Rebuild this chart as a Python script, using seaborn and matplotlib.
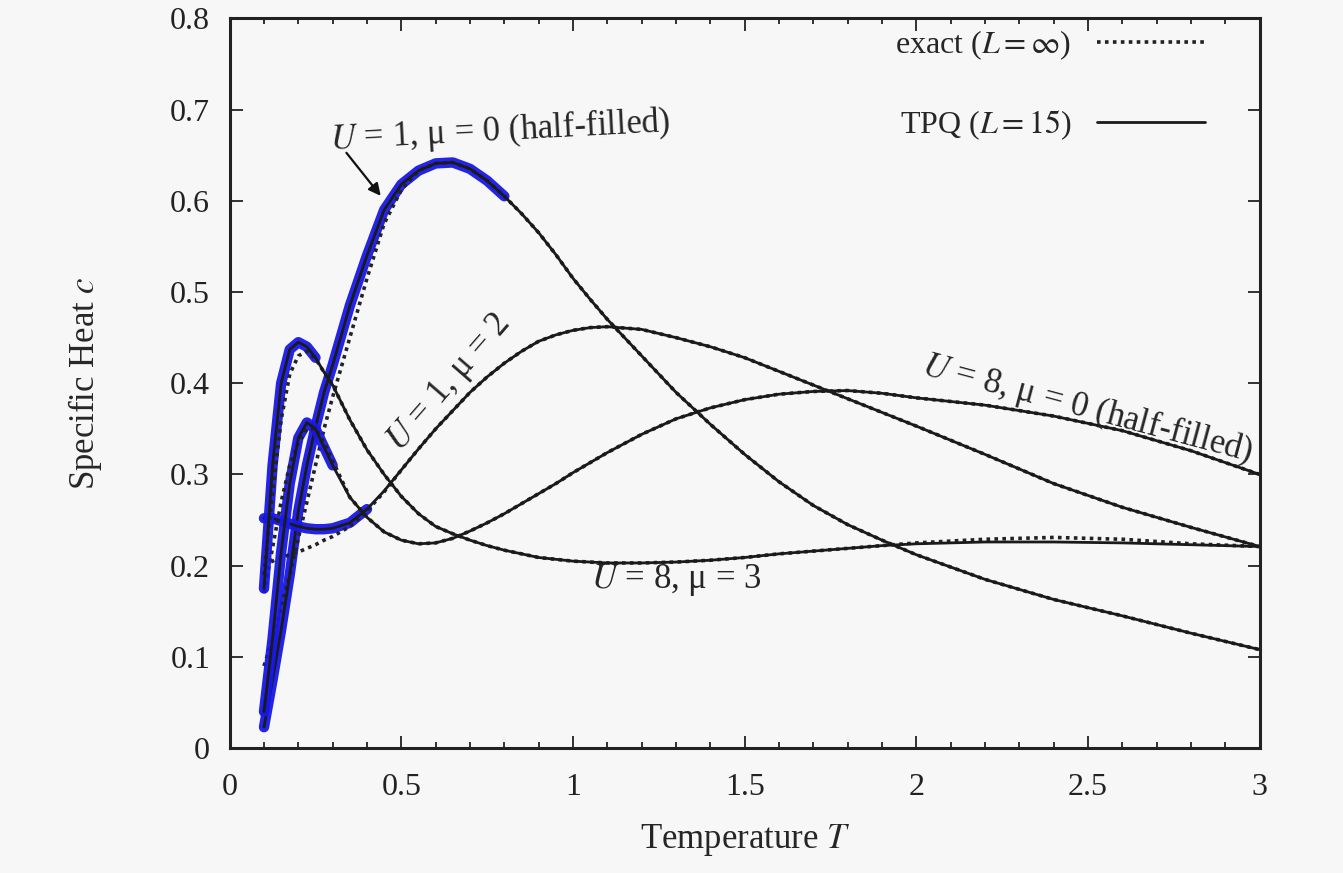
import numpy as np
import pandas as pd
import seaborn as sns
import matplotlib.pyplot as plt
from matplotlib.lines import Line2D

# temperature grid shared by all curves
temps = [0.10, 0.125, 0.15, 0.175, 0.20, 0.225, 0.25, 0.275, 0.30, 0.35,
         0.40, 0.45, 0.50, 0.55, 0.60, 0.65, 0.70, 0.75, 0.80, 0.85,
         0.90, 0.95, 1.00, 1.05, 1.10, 1.20, 1.30, 1.40, 1.50, 1.60,
         1.70, 1.80, 1.90, 2.00, 2.20, 2.40, 2.60, 2.80, 3.00]

# TPQ (L = 15) results
tpq_u1_mu0 = [0.023, 0.075, 0.13, 0.19, 0.26, 0.31, 0.352, 0.39, 0.42, 0.485,
              0.54, 0.59, 0.618, 0.633, 0.641, 0.642, 0.635, 0.622, 0.605, 0.586,
              0.565, 0.541, 0.515, 0.492, 0.47, 0.43, 0.39, 0.355, 0.322, 0.292,
              0.266, 0.245, 0.228, 0.212, 0.185, 0.163, 0.145, 0.126, 0.108]
tpq_u1_mu2 = [0.252, 0.252, 0.249, 0.246, 0.243, 0.241, 0.24, 0.24, 0.241, 0.247,
              0.262, 0.282, 0.305, 0.328, 0.35, 0.37, 0.39, 0.407, 0.422, 0.435,
              0.446, 0.453, 0.458, 0.461, 0.462, 0.459, 0.45, 0.44, 0.428, 0.413,
              0.398, 0.383, 0.368, 0.353, 0.322, 0.29, 0.264, 0.242, 0.221]
tpq_u8_mu0 = [0.04, 0.12, 0.215, 0.29, 0.34, 0.357, 0.35, 0.33, 0.31, 0.275,
              0.253, 0.237, 0.228, 0.224, 0.225, 0.23, 0.238, 0.247, 0.257, 0.268,
              0.279, 0.29, 0.302, 0.313, 0.324, 0.344, 0.361, 0.373, 0.382, 0.388,
              0.391, 0.392, 0.389, 0.384, 0.376, 0.364, 0.348, 0.326, 0.30]
tpq_u8_mu3 = [0.175, 0.31, 0.40, 0.437, 0.445, 0.44, 0.428, 0.412, 0.398, 0.36,
              0.327, 0.30, 0.276, 0.257, 0.243, 0.235, 0.228, 0.222, 0.217, 0.213,
              0.209, 0.207, 0.205, 0.204, 0.203, 0.203, 0.204, 0.206, 0.209, 0.213,
              0.216, 0.219, 0.222, 0.224, 0.226, 0.226, 0.225, 0.223, 0.221]

# exact (L = infinity) results
exact_u1_mu0 = [0.09, 0.12, 0.155, 0.19, 0.23, 0.27, 0.31, 0.35, 0.385, 0.45,
                0.515, 0.575, 0.612, 0.633, 0.641, 0.642, 0.635, 0.622, 0.605, 0.586,
                0.565, 0.541, 0.515, 0.492, 0.47, 0.43, 0.39, 0.355, 0.322, 0.292,
                0.266, 0.245, 0.228, 0.212, 0.185, 0.163, 0.145, 0.126, 0.108]
exact_u1_mu2 = [0.20, 0.205, 0.209, 0.212, 0.215, 0.219, 0.223, 0.228, 0.232, 0.243,
                0.26, 0.281, 0.305, 0.328, 0.35, 0.37, 0.39, 0.407, 0.422, 0.435,
                0.446, 0.453, 0.458, 0.461, 0.462, 0.459, 0.45, 0.44, 0.428, 0.413,
                0.398, 0.383, 0.368, 0.353, 0.322, 0.29, 0.264, 0.242, 0.221]
exact_u8_mu0 = [0.17, 0.22, 0.27, 0.31, 0.335, 0.35, 0.35, 0.335, 0.315, 0.275,
                0.253, 0.237, 0.228, 0.224, 0.225, 0.23, 0.238, 0.247, 0.257, 0.268,
                0.279, 0.29, 0.302, 0.313, 0.324, 0.344, 0.361, 0.373, 0.382, 0.388,
                0.391, 0.392, 0.389, 0.384, 0.376, 0.364, 0.348, 0.326, 0.30]
exact_u8_mu3 = [0.19, 0.28, 0.36, 0.41, 0.43, 0.435, 0.427, 0.412, 0.398, 0.36,
                0.327, 0.30, 0.276, 0.257, 0.243, 0.235, 0.228, 0.222, 0.217, 0.213,
                0.209, 0.207, 0.205, 0.204, 0.203, 0.203, 0.204, 0.206, 0.209, 0.213,
                0.216, 0.219, 0.222, 0.225, 0.229, 0.231, 0.229, 0.224, 0.221]

curve_names = ["U1_mu0", "U1_mu2", "U8_mu0", "U8_mu3"]
tpq_sets = [tpq_u1_mu0, tpq_u1_mu2, tpq_u8_mu0, tpq_u8_mu3]
exact_sets = [exact_u1_mu0, exact_u1_mu2, exact_u8_mu0, exact_u8_mu3]
# TPQ error bars are visible only below these temperatures
error_limits = [0.80, 0.42, 0.30, 0.25]

x_ticks = [0, 0.5, 1, 1.5, 2, 2.5, 3]
x_tick_labels = ["0", "0.5", "1", "1.5", "2", "2.5", "3"]
y_ticks = [0, 0.1, 0.2, 0.3, 0.4, 0.5, 0.6, 0.7, 0.8]
y_tick_labels = ["0", "0.1", "0.2", "0.3", "0.4", "0.5", "0.6", "0.7", "0.8"]

# Build a long table
frames = []
for name, tpq, exact in zip(curve_names, tpq_sets, exact_sets):
    frames.append(pd.DataFrame({"T": temps, "tpq": tpq, "exact": exact, "curve": name}))
df = pd.concat(frames, ignore_index=True)

sns.set_theme(style="ticks")
plt.rcParams["font.family"] = ["Liberation Serif", "DejaVu Serif"]
plt.rcParams["mathtext.fontset"] = "stix"

bg = "#f7f7f7"
fig, ax = plt.subplots(figsize=(13.43, 8.73), dpi=100)
fig.patch.set_facecolor(bg)
ax.set_facecolor(bg)
fig.subplots_adjust(left=0.171, right=0.938, bottom=0.143, top=0.979)

for name, lim in zip(curve_names, error_limits):
    sub = df[df["curve"] == name]
    low = sub[sub["T"] <= lim]
    # blue error band of the TPQ data
    sns.lineplot(data=low, x="T", y="tpq", ax=ax, color="#1818e8", lw=7.5,
                 alpha=0.95, solid_capstyle="round")
    sns.lineplot(data=sub, x="T", y="exact", ax=ax, color="#222222", lw=2.6,
                 linestyle=(0, (1, 1.2)))
    sns.lineplot(data=sub, x="T", y="tpq", ax=ax, color="#1a1a1a", lw=2.0)

ax.set_xlim(0, 3)
ax.set_ylim(0, 0.8)
ax.set_xticks(x_ticks)
ax.set_xticklabels(x_tick_labels)
ax.set_yticks(y_ticks)
ax.set_yticklabels(y_tick_labels)
ax.set_xticks(np.arange(0, 3.01, 0.1), minor=True)
ax.tick_params(which="both", direction="in", top=True, right=True,
               labelsize=23, width=1.3, colors="#222222")
ax.tick_params(which="major", length=9)
ax.tick_params(axis="x", which="major", pad=18)
ax.tick_params(axis="y", which="major", pad=14)
ax.tick_params(which="minor", length=4)
for sp in ax.spines.values():
    sp.set_visible(True)
    sp.set_linewidth(2.2)
    sp.set_color("#222222")

ax.set_xlabel("Temperature $T$", fontsize=25, labelpad=14)
ax.set_ylabel("Specific Heat $c$", fontsize=25, labelpad=48)

# legend in gnuplot style: text first, sample after
handles = [Line2D([], [], color="#222222", lw=2.6, linestyle=(0, (1, 1.2))),
           Line2D([], [], color="#1a1a1a", lw=2.0)]
ax.legend(handles, [r"exact ($L = \infty$)", r"TPQ ($L = 15$)"],
          loc="upper right", bbox_to_anchor=(0.975, 1.025), frameon=False,
          markerfirst=False, fontsize=23, handlelength=3.4, labelspacing=1.45)

# curve labels
ax.text(0.29, 0.676, r"$U$ = 1, μ = 0 (half-filled)", fontsize=25,
        va="center", ha="left", rotation=3)
ax.annotate("", xy=(0.445, 0.603), xytext=(0.335, 0.655),
            arrowprops=dict(arrowstyle="-|>", color="#111111", lw=1.6,
                            mutation_scale=18))
ax.text(0.64, 0.40, r"$U$ = 1, μ = 2", fontsize=25, va="center",
        ha="center", rotation=49)
ax.text(2.5, 0.372, r"$U$ = 8, μ = 0 (half-filled)", fontsize=25,
        va="center", ha="center", rotation=-15)
ax.text(1.3, 0.184, r"$U$ = 8, μ = 3", fontsize=25, va="center", ha="center")

fig.savefig("out.png", dpi=100, facecolor=bg)
